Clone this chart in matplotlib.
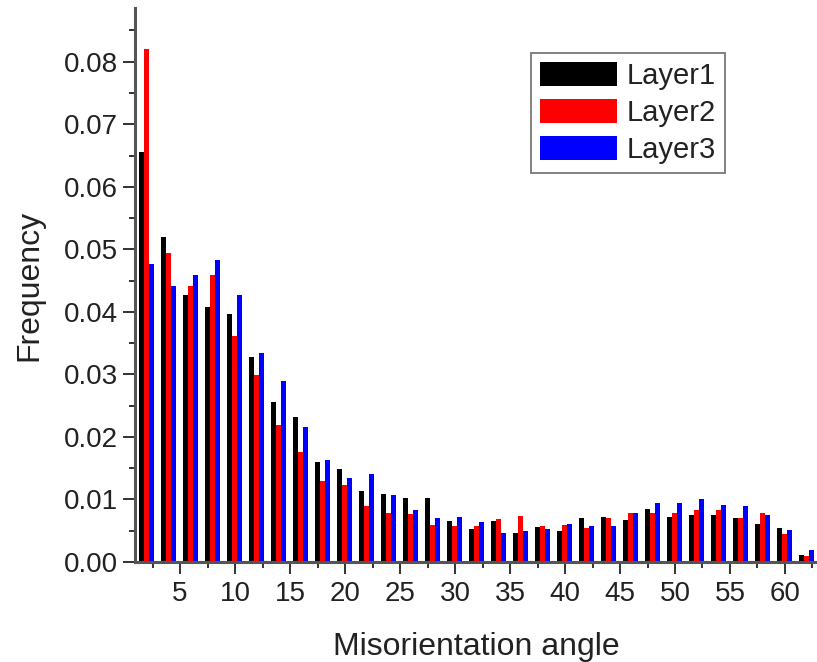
import numpy as np
import matplotlib.pyplot as plt
from matplotlib.ticker import MultipleLocator

plt.rcParams['font.family'] = ['Liberation Sans', 'DejaVu Sans']

# bin centres (degrees) and frequency per layer
angle = np.arange(2, 63, 2)
layer1 = [0.0656, 0.0520, 0.0427, 0.0408, 0.0397, 0.0328, 0.0256, 0.0232, 0.0160, 0.0149,
          0.0114, 0.0109, 0.0102, 0.0102, 0.0066, 0.0053, 0.0066, 0.0046, 0.0056, 0.0050,
          0.0070, 0.0072, 0.0068, 0.0085, 0.0072, 0.0076, 0.0075, 0.0070, 0.0061, 0.0055,
          0.0011]
layer2 = [0.0821, 0.0494, 0.0442, 0.0459, 0.0362, 0.0299, 0.0219, 0.0176, 0.0130, 0.0123,
          0.0090, 0.0078, 0.0077, 0.0059, 0.0058, 0.0058, 0.0069, 0.0073, 0.0058, 0.0059,
          0.0054, 0.0070, 0.0078, 0.0079, 0.0079, 0.0083, 0.0084, 0.0071, 0.0079, 0.0045,
          0.0009]
layer3 = [0.0477, 0.0442, 0.0459, 0.0483, 0.0427, 0.0335, 0.0290, 0.0216, 0.0163, 0.0134,
          0.0141, 0.0107, 0.0083, 0.0070, 0.0072, 0.0064, 0.0046, 0.0050, 0.0053, 0.0061,
          0.0058, 0.0058, 0.0078, 0.0094, 0.0094, 0.0101, 0.0092, 0.0090, 0.0076, 0.0051,
          0.0019]
names = ["Layer1", "Layer2", "Layer3"]
colors = ["black", "red", "blue"]

fig = plt.figure(figsize=(8.17, 6.62), dpi=100)
ax = fig.add_axes([0.1652, 0.151, 0.836, 0.837])

w = 0.45
for k, (vals, nm, c) in enumerate(zip([layer1, layer2, layer3], names, colors)):
    ax.bar(angle - 0.05 + (k - 1) * w, vals, width=w, color=c, linewidth=0, label=nm)

ax.set_xlim(0.9, 63)
ax.set_ylim(0, 0.0886)
ax.set_xticks(np.arange(5, 61, 5))
ax.xaxis.set_minor_locator(MultipleLocator(2.5))
ax.yaxis.set_major_locator(MultipleLocator(0.01))
ax.yaxis.set_minor_locator(MultipleLocator(0.005))
ax.yaxis.set_major_formatter(plt.FormatStrFormatter('%.2f'))

for s in ["top", "right"]:
    ax.spines[s].set_visible(False)
for s in ["left", "bottom"]:
    ax.spines[s].set_linewidth(2.2)
    ax.spines[s].set_color("#555555")

ax.tick_params(which="major", direction="out", length=8.5, width=1.3, color="#222222",
               labelsize=20, pad=4)
ax.tick_params(which="minor", direction="out", length=4.5, width=1.3, color="#222222")
ax.tick_params(axis="x", pad=5)

ax.set_xlabel("Misorientation angle", fontsize=23, labelpad=18, color="#222222")
ax.set_ylabel("Frequency", fontsize=23, labelpad=14, color="#222222")
for t in ax.get_xticklabels() + ax.get_yticklabels():
    t.set_color("#222222")

leg = ax.legend(loc="upper right", bbox_to_anchor=(725 / 817, 1 - 53 / 662),
                bbox_transform=fig.transFigure, borderaxespad=0, fontsize=21,
                handlelength=2.65, handleheight=0.9, handletextpad=0.35,
                labelspacing=0.3, borderpad=0.3, fancybox=False, framealpha=1)
leg.get_frame().set_edgecolor("#777777")
leg.get_frame().set_linewidth(1.3)
for t in leg.get_texts():
    t.set_color("#222222")

fig.savefig("out.png", dpi=100)
